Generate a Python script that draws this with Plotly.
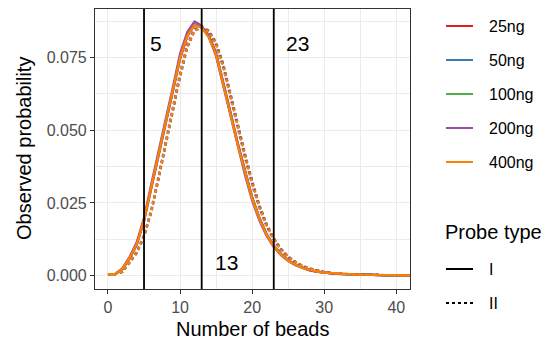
import plotly.graph_objects as go

# ---------------- data ----------------
beads = list(range(0, 43))

conc_labels = ["25ng", "50ng", "100ng", "200ng", "400ng"]
conc_colors = ["#E41A1C", "#377EB8", "#4DAF4A", "#984EA3", "#FF7F00"]
probe_types = ["I", "II"]

typeI_25 = [0.0005,0.0005,0.0021,0.0058,0.0106,0.0186,0.0298,0.0412,0.0520,0.0630,0.0744,0.0822,0.0862,0.0857,0.0826,0.0766,0.0668,0.0563,0.0458,0.0361,0.0271,0.0200,0.0144,0.0104,0.0075,0.0053,0.0038,0.0027,0.0019,0.0014,0.0010,0.0008,0.0006,0.0005,0.0004,0.0003,0.0003,0.0002,0.0002,0.0001,0.0001,0.0001,0.0001]
typeI_50 = [0.0005,0.0005,0.0022,0.0060,0.0109,0.0190,0.0303,0.0418,0.0525,0.0635,0.0750,0.0826,0.0865,0.0856,0.0823,0.0762,0.0663,0.0558,0.0453,0.0357,0.0267,0.0197,0.0142,0.0103,0.0074,0.0052,0.0037,0.0027,0.0019,0.0014,0.0010,0.0008,0.0006,0.0005,0.0004,0.0003,0.0003,0.0002,0.0002,0.0001,0.0001,0.0001,0.0001]
typeI_100 = [0.0005,0.0005,0.0023,0.0061,0.0111,0.0193,0.0306,0.0421,0.0528,0.0638,0.0752,0.0826,0.0863,0.0853,0.0820,0.0760,0.0662,0.0557,0.0452,0.0356,0.0267,0.0197,0.0142,0.0103,0.0073,0.0052,0.0037,0.0027,0.0019,0.0014,0.0010,0.0008,0.0006,0.0005,0.0004,0.0003,0.0003,0.0002,0.0002,0.0001,0.0001,0.0001,0.0001]
typeI_200 = [0.0005,0.0006,0.0025,0.0065,0.0116,0.0199,0.0314,0.0430,0.0538,0.0648,0.0764,0.0838,0.0874,0.0860,0.0820,0.0754,0.0652,0.0546,0.0441,0.0346,0.0258,0.0189,0.0136,0.0098,0.0070,0.0050,0.0036,0.0026,0.0018,0.0013,0.0010,0.0007,0.0006,0.0005,0.0004,0.0003,0.0002,0.0002,0.0002,0.0001,0.0001,0.0001,0.0001]
typeI_400 = [0.0005,0.0005,0.0023,0.0061,0.0110,0.0192,0.0305,0.0419,0.0526,0.0636,0.0750,0.0824,0.0862,0.0853,0.0819,0.0758,0.0659,0.0554,0.0449,0.0353,0.0264,0.0195,0.0140,0.0101,0.0072,0.0051,0.0037,0.0026,0.0019,0.0014,0.0010,0.0008,0.0006,0.0005,0.0004,0.0003,0.0003,0.0002,0.0002,0.0001,0.0001,0.0001,0.0001]

typeII_25 = [0.0005,0.0005,0.0012,0.0043,0.0077,0.0133,0.0216,0.0329,0.0443,0.0562,0.0682,0.0783,0.0841,0.0855,0.0843,0.0802,0.0728,0.0627,0.0522,0.0421,0.0327,0.0244,0.0178,0.0129,0.0093,0.0066,0.0048,0.0034,0.0025,0.0018,0.0013,0.0009,0.0007,0.0005,0.0004,0.0004,0.0003,0.0003,0.0002,0.0002,0.0001,0.0001,0.0001]
typeII_50 = [0.0005,0.0005,0.0013,0.0044,0.0079,0.0136,0.0220,0.0334,0.0448,0.0568,0.0688,0.0788,0.0844,0.0855,0.0841,0.0798,0.0723,0.0621,0.0516,0.0415,0.0321,0.0239,0.0174,0.0126,0.0091,0.0065,0.0046,0.0033,0.0024,0.0017,0.0012,0.0009,0.0007,0.0005,0.0004,0.0004,0.0003,0.0003,0.0002,0.0002,0.0001,0.0001,0.0001]
typeII_100 = [0.0005,0.0005,0.0013,0.0045,0.0080,0.0137,0.0221,0.0335,0.0449,0.0569,0.0689,0.0789,0.0844,0.0854,0.0840,0.0798,0.0723,0.0622,0.0517,0.0416,0.0322,0.0240,0.0175,0.0127,0.0091,0.0065,0.0047,0.0033,0.0024,0.0017,0.0012,0.0009,0.0007,0.0005,0.0004,0.0004,0.0003,0.0003,0.0002,0.0002,0.0001,0.0001,0.0001]
typeII_200 = [0.0005,0.0005,0.0014,0.0047,0.0083,0.0141,0.0227,0.0342,0.0457,0.0578,0.0698,0.0797,0.0849,0.0856,0.0838,0.0792,0.0714,0.0611,0.0506,0.0405,0.0313,0.0232,0.0169,0.0122,0.0088,0.0063,0.0045,0.0032,0.0023,0.0017,0.0012,0.0009,0.0007,0.0005,0.0004,0.0003,0.0003,0.0002,0.0002,0.0002,0.0001,0.0001,0.0001]
typeII_400 = [0.0005,0.0005,0.0013,0.0045,0.0080,0.0137,0.0222,0.0336,0.0450,0.0570,0.0690,0.0789,0.0844,0.0853,0.0838,0.0794,0.0718,0.0616,0.0511,0.0410,0.0317,0.0236,0.0172,0.0124,0.0089,0.0064,0.0046,0.0033,0.0024,0.0017,0.0012,0.0009,0.0007,0.0005,0.0004,0.0004,0.0003,0.0003,0.0002,0.0002,0.0001,0.0001,0.0001]

cutoffs = [5, 13, 23]
cutoff_labels = ["5", "13", "23"]
cutoff_label_x = [6.7, 16.5, 26.3]
cutoff_label_y = [0.0797, 0.0044, 0.0797]

x_ticks = [0, 10, 20, 30, 40]
y_ticks = [0.0, 0.025, 0.05, 0.075]
y_tick_text = ["0.000", "0.025", "0.050", "0.075"]

typeI = [typeI_25, typeI_50, typeI_100, typeI_200, typeI_400]
typeII = [typeII_25, typeII_50, typeII_100, typeII_200, typeII_400]

# ---------------- layout geometry (pixels) ----------------
W, H = 546, 340
PL, PR, PT, PB = 95, 410, 9, 289  # panel box


def px2x(px):
    return (px - PL) / (PR - PL)


def py2y(py):
    return (PB - py) / (PB - PT)


FONT = "Liberation Sans"
DASH = "3px,3px"
SMALL = 16

fig = go.Figure()

for i, lab in enumerate(conc_labels):
    for ptype, series in zip(probe_types, (typeI[i], typeII[i])):
        fig.add_trace(go.Scatter(
            x=beads, y=series, mode="lines",
            line=dict(color=conc_colors[i], width=2.2,
                      dash="solid" if ptype == "I" else DASH),
            name=f"{lab} {ptype}", showlegend=False, hoverinfo="skip",
        ))

shapes = []
for c in cutoffs:
    shapes.append(dict(type="line", xref="x", yref="paper", x0=c, x1=c, y0=0, y1=1,
                       line=dict(color="black", width=1.8), layer="above"))

annotations = []
for t, ax_, ay_ in zip(cutoff_labels, cutoff_label_x, cutoff_label_y):
    annotations.append(dict(x=ax_, y=ay_, xref="x", yref="y", text=t,
                            showarrow=False, xanchor="center", yanchor="middle",
                            font=dict(family=FONT, size=21, color="black")))

# axis titles
annotations.append(dict(x=px2x((PL + PR) / 2), y=py2y(329), xref="paper", yref="paper",
                        text="Number of beads", showarrow=False,
                        xanchor="center", yanchor="middle",
                        font=dict(family=FONT, size=20, color="black")))
annotations.append(dict(x=px2x(24), y=py2y((PT + PB) / 2), xref="paper", yref="paper",
                        text="Observed probability", showarrow=False, textangle=-90,
                        xanchor="center", yanchor="middle",
                        font=dict(family=FONT, size=20, color="black")))

# manual legend
key_x0, key_x1, lab_x = 446, 473, 487
color_rows = [26, 60, 94, 128, 162]
for lab, col, ry in zip(conc_labels, conc_colors, color_rows):
    shapes.append(dict(type="line", xref="paper", yref="paper",
                       x0=px2x(key_x0), x1=px2x(key_x1), y0=py2y(ry), y1=py2y(ry),
                       line=dict(color=col, width=2)))
    annotations.append(dict(x=px2x(lab_x), y=py2y(ry), xref="paper", yref="paper",
                            text=lab, showarrow=False, xanchor="left", yanchor="middle",
                            font=dict(family=FONT, size=SMALL, color="black")))

annotations.append(dict(x=px2x(443), y=py2y(232), xref="paper", yref="paper",
                        text="Probe type", showarrow=False, xanchor="left", yanchor="middle",
                        font=dict(family=FONT, size=20, color="black")))
type_rows = [269, 303]
for ptype, ry in zip(probe_types, type_rows):
    shapes.append(dict(type="line", xref="paper", yref="paper",
                       x0=px2x(key_x0), x1=px2x(key_x1), y0=py2y(ry), y1=py2y(ry),
                       line=dict(color="black", width=2,
                                 dash="solid" if ptype == "I" else DASH)))
    annotations.append(dict(x=px2x(lab_x), y=py2y(ry), xref="paper", yref="paper",
                            text=ptype, showarrow=False, xanchor="left", yanchor="middle",
                            font=dict(family=FONT, size=SMALL, color="black")))

axis_common = dict(
    showline=True, linecolor="#333333", linewidth=1.2, mirror=True,
    ticks="outside", ticklen=4, tickwidth=1.1, tickcolor="#333333",
    tickfont=dict(family=FONT, size=SMALL, color="#4D4D4D"),
    showgrid=True, gridcolor="#EBEBEB", gridwidth=1.1,
    zeroline=False,
)

fig.update_layout(
    width=W, height=H,
    margin=dict(l=PL, r=W - PR, t=PT, b=H - PB, autoexpand=False),
    paper_bgcolor="white", plot_bgcolor="white",
    showlegend=False,
    xaxis=dict(range=[-1.8, 41.9], tickvals=x_ticks,
               minor=dict(tickvals=[5, 15, 25, 35], showgrid=True,
                          gridcolor="#EBEBEB", gridwidth=0.6, ticks=""),
               **axis_common),
    yaxis=dict(range=[-0.0046, 0.0917], tickvals=y_ticks, ticktext=y_tick_text,
               minor=dict(tickvals=[0.0125, 0.0375, 0.0625, 0.0875], showgrid=True,
                          gridcolor="#EBEBEB", gridwidth=0.6, ticks=""),
               **axis_common),
    annotations=annotations,
    shapes=shapes,
)

fig.write_html("out.html")
